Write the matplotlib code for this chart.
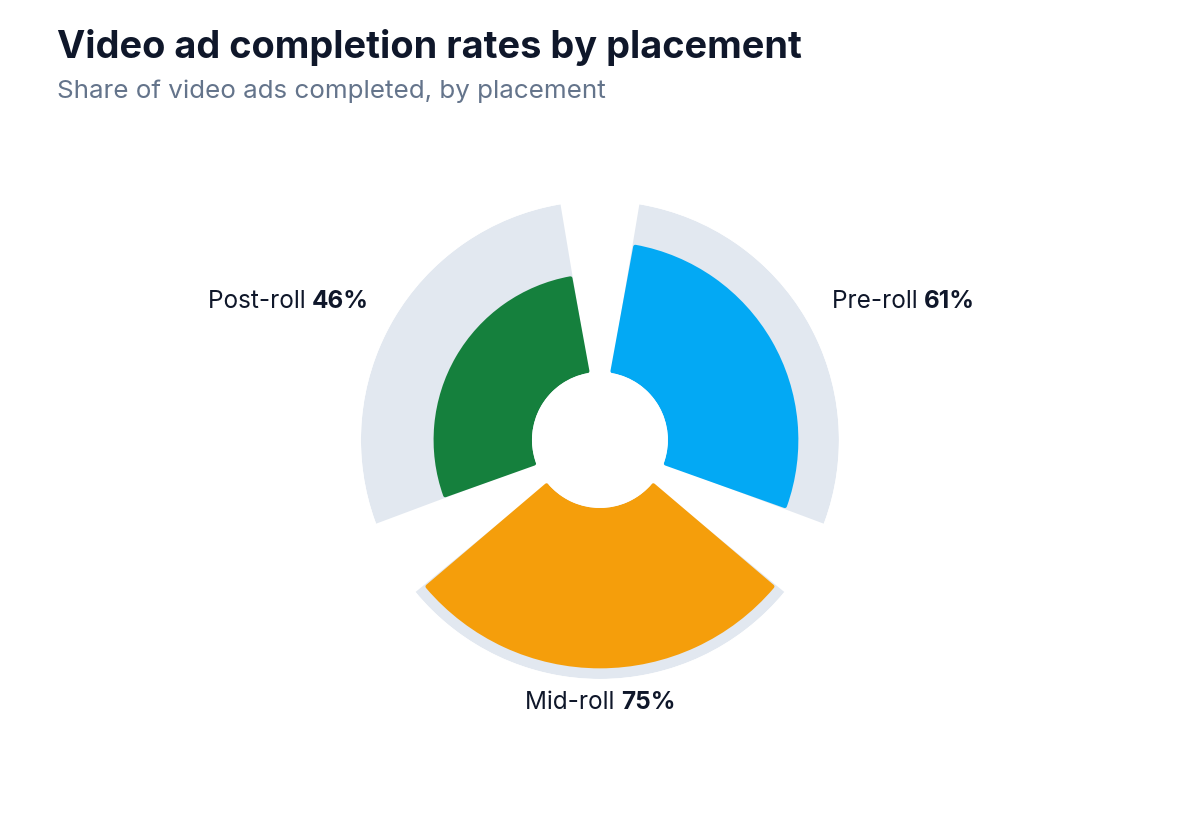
import numpy as np
import matplotlib
matplotlib.use("Agg")
import matplotlib.pyplot as plt
from matplotlib.transforms import offset_copy

plt.rcParams['font.family'] = ['Inter', 'DejaVu Sans']

# data
placements = ['Pre-roll', 'Mid-roll', 'Post-roll']
rates = [61, 75, 46]
colors = ['#03a9f4', '#f59e0b', '#15803d']
track_max = 80

title = 'Video ad completion rates by placement'
subtitle = 'Share of video ads completed, by placement'

fig = plt.figure(figsize=(12, 8.4), dpi=100)
ax = fig.add_axes([0.3008, 0.1917, 0.3983, 0.569], projection='polar')
ax.set_theta_zero_location('N')
ax.set_theta_direction(-1)
ax.set_rorigin(-31.8)
ax.set_ylim(0, track_max)
ax.set_axis_off()

n = len(placements)
centers = np.deg2rad(np.arange(n) * 360 / n + 60)
width = np.deg2rad(101)

# grey tracks
ax.bar(centers, [track_max] * n, width=width, bottom=0, color='#e2e8f0',
       linewidth=0, zorder=1)

# coloured bars, edge drawn thick with round joins to soften the corners
pad_r = 0.95
pad_t = 0.03
for c, v, col in zip(centers, rates, colors):
    ax.bar(c, v - 2 * pad_r, width=width - pad_t, bottom=pad_r, color=col,
           edgecolor=col, linewidth=3, joinstyle='round', zorder=2)

# labels: regular name + bold value
fig.canvas.draw()
rend = fig.canvas.get_renderer()


def label(theta, r, name, val, ha, va, dx=0, dy=0):
    t1 = ax.text(theta, r, name + ' ', ha='left', va=va, fontsize=17.5,
                 color='#0f172a', clip_on=False)
    t2 = ax.text(theta, r, val, ha='left', va=va, fontsize=17.5,
                 fontweight='bold', color='#0f172a', clip_on=False)
    w1 = t1.get_window_extent(rend).width
    w2 = t2.get_window_extent(rend).width
    tot = w1 + w2
    start = {'left': 0, 'center': -tot / 2, 'right': -tot}[ha] + dx
    t1.set_transform(offset_copy(ax.transData, fig, x=start, y=dy, units='dots'))
    t2.set_transform(offset_copy(ax.transData, fig, x=start + w1, y=dy, units='dots'))


label(centers[0], 94.5, placements[0], f'{rates[0]}%', 'left', 'center', dx=-2, dy=4)
label(centers[1], 86.5, placements[1], f'{rates[1]}%', 'center', 'top', dy=2)
label(centers[2], 94.5, placements[2], f'{rates[2]}%', 'right', 'center', dx=3, dy=4)

fig.text(57 / 1200, 1 - 47 / 840, title, fontsize=27.3, fontweight='bold',
         color='#0f172a', ha='left', va='center')
fig.text(57 / 1200, 1 - 91 / 840, subtitle, fontsize=18.7, color='#64748b',
         ha='left', va='center')

fig.savefig('out.png', dpi=100)
